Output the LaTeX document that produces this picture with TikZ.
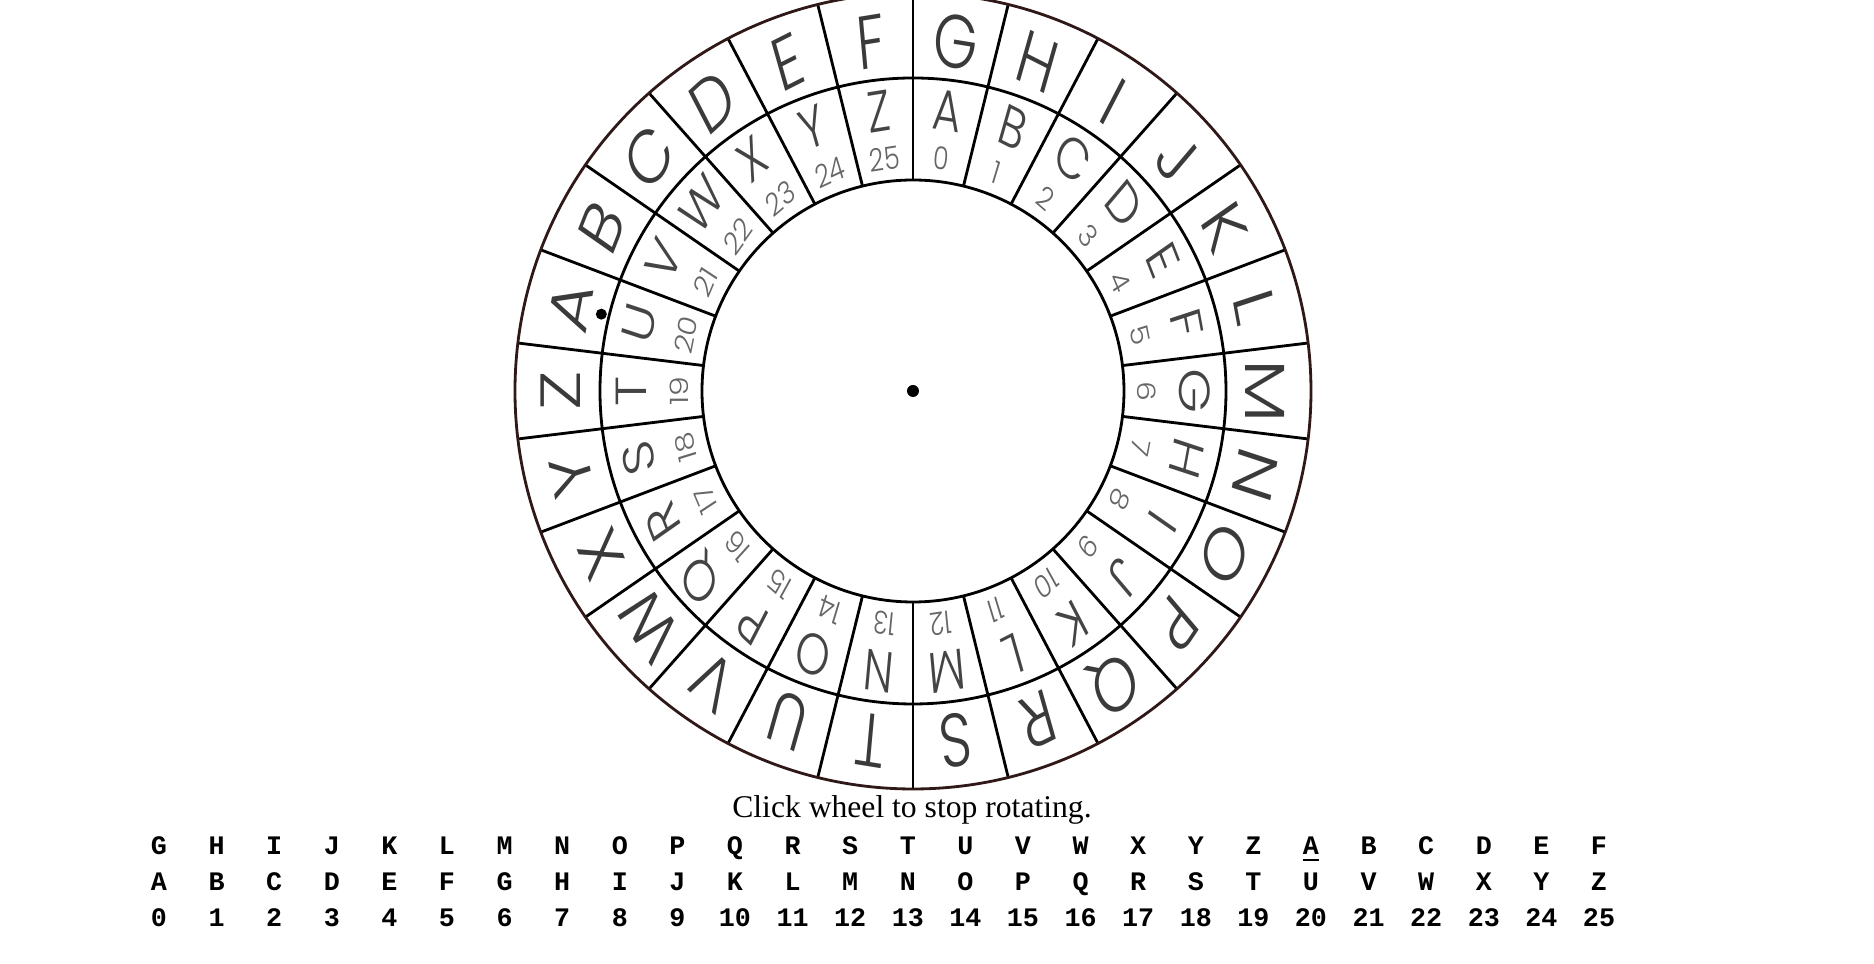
\documentclass[tikz,border=0pt]{standalone}
\usepackage{fontspec}
\setmainfont{Liberation Serif}
\newfontfamily\wheelfont{Poppins}[UprightFont={* Light}]
\newfontfamily\tablefont{Liberation Mono}
\usetikzlibrary{calc}
\definecolor{rim}{HTML}{301818}
\definecolor{ink}{HTML}{3A3A3A}
\definecolor{inkin}{HTML}{444444}
\definecolor{inknum}{HTML}{666666}
\tikzset{
  ring/.style={line width=0.8pt},
  outlet/.style={font=\wheelfont\fontsize{21.5}{22}\selectfont,text=ink,inner sep=0pt,xscale=0.75},
  inlet/.style={font=\wheelfont\fontsize{16.5}{18}\selectfont,text=inkin,inner sep=0pt,xscale=0.75},
  innum/.style={font=\wheelfont\fontsize{9}{10}\selectfont,text=inknum,inner sep=0pt,xscale=0.8},
  pin/.style={circle,fill=black,inner sep=0pt,minimum size=#1},
  cell/.style={font=\tablefont\bfseries\fontsize{7.6}{8}\selectfont,anchor=base,inner sep=0pt},
}
\begin{document}
\begin{tikzpicture}[x=0.1mm,y=0.1mm]
\useasboundingbox (-913,-573) rectangle (961,391);
% wheel rings and spokes
\foreach \j in {0,...,25}
  \draw[ring] (90+\j*13.8462:211) -- (90+\j*13.8462:398);
\draw[ring] (0,0) circle (211);
\draw[ring] (0,0) circle (313);
\draw[ring,draw=rim] (0,0) circle (398);
% outer letters
\foreach \ch [count=\i from 0,evaluate=\i as \ang using 166.1538-\i*13.8462] in {A,...,Z}
  \node[outlet,rotate=\ang-90] (out\ch) at (\ang:352) {\ch};
% inner letters and numbers
\foreach \ch [count=\i from 0,evaluate=\i as \ang using 83.0769-\i*13.8462] in {A,...,Z} {
  \node[inlet,rotate=\ang-90] (in\ch) at (\ang:282) {\ch};
  \node[innum,rotate=\ang-90] (num\i) at (\ang:234) {\i};
}
\node[pin=1.2mm] (hub) at (0,0) {};
\node[pin=1.1mm] (mark) at (166.15:321) {};
% caption and table
\node[font=\fontsize{9}{10}\selectfont,anchor=base,inner sep=0pt] (hint) at (-1,-427) {Click wheel to stop rotating.};
\foreach \ch [count=\i from 0] in {G,H,I,J,K,L,M,N,O,P,Q,R,S,T,U,V,W,X,Y,Z,\underline{A},B,C,D,E,F}
  \node[cell] (shift\i) at (-754+57.6*\i,-464) {\ch};
\foreach \ch [count=\i from 0] in {A,...,Z} {
  \node[cell] (plain\i) at (-754+57.6*\i,-500) {\ch};
  \node[cell] (code\i) at (-754+57.6*\i,-536) {\i};
}
\end{tikzpicture}
\end{document}
